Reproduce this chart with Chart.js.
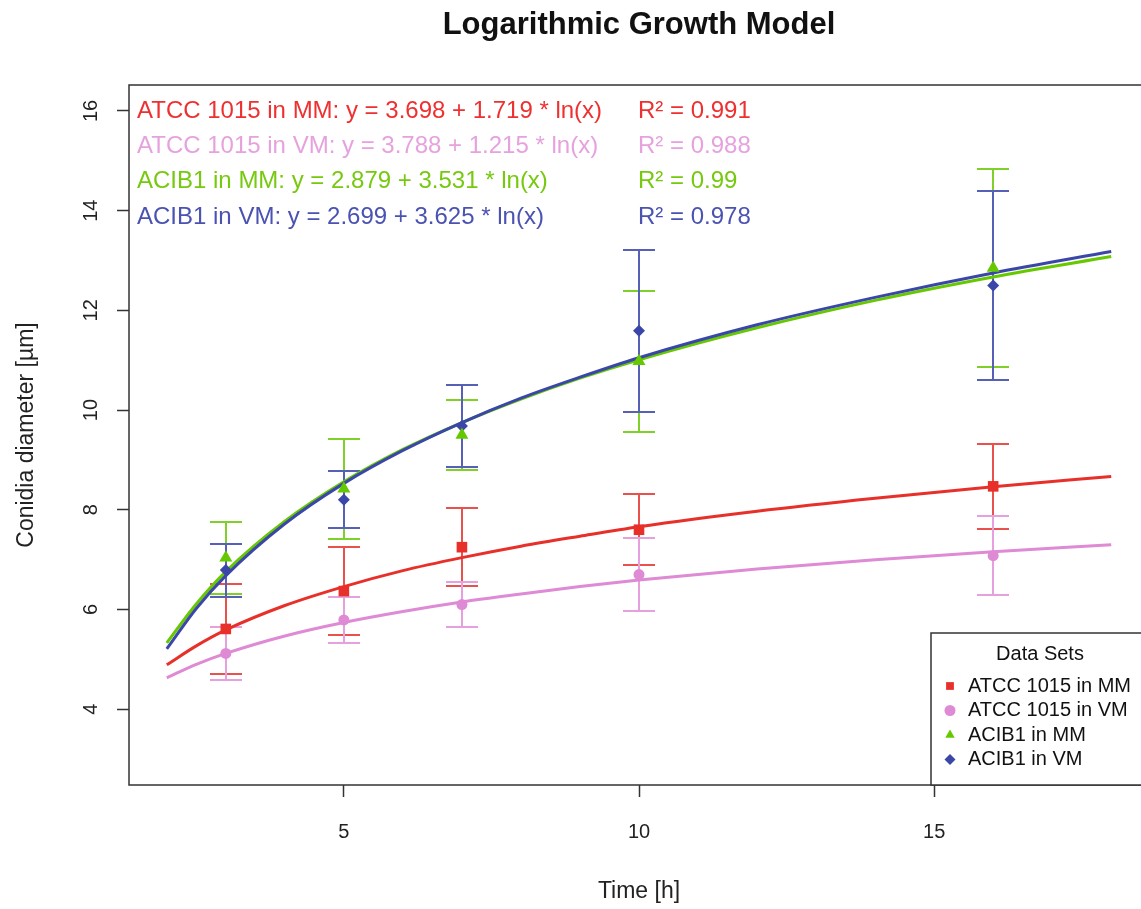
<!DOCTYPE html>
<html>
<head>
<meta charset="utf-8">
<title>Logarithmic Growth Model</title>
<script src="https://cdn.jsdelivr.net/npm/chart.js@4.4.1/dist/chart.umd.min.js"></script>
<style>
  html, body { margin: 0; padding: 0; background: #fff; overflow: hidden; }
  #marco { width: 1141px; height: 909px; overflow: hidden; }
</style>
</head>
<body>
<div id="marco"><canvas id="graf" width="1160" height="909"></canvas></div>
<script>
/*Datos*/
const seriesNames = ['ATCC 1015 in MM', 'ATCC 1015 in VM', 'ACIB1 in MM', 'ACIB1 in VM']
const equations = [
    'ATCC 1015 in MM: y = 3.698 + 1.719 * ln(x)',
    'ATCC 1015 in VM: y = 3.788 + 1.215 * ln(x)',
    'ACIB1 in MM: y = 2.879 + 3.531 * ln(x)',
    'ACIB1 in VM: y = 2.699 + 3.625 * ln(x)'
]
const r2Labels = ['R² = 0.991', 'R² = 0.988', 'R² = 0.99', 'R² = 0.978']

// puntos medidos (media y desviacion)
const sampleTimes = [3, 5, 7, 10, 16]
const meanAtccMM = [5.61, 6.37, 7.25, 7.60, 8.47]
const sdAtccMM = [0.91, 0.88, 0.78, 0.71, 0.85]
const meanAtccVM = [5.12, 5.79, 6.10, 6.70, 7.08]
const sdAtccVM = [0.53, 0.46, 0.45, 0.74, 0.79]
const meanAcibMM = [7.04, 8.42, 9.50, 10.98, 12.85]
const sdAcibMM = [0.72, 1.00, 0.70, 1.41, 1.99]
const meanAcibVM = [6.79, 8.20, 9.68, 11.59, 12.50]
const sdAcibVM = [0.53, 0.57, 0.82, 1.63, 1.89]

// curvas ajustadas
const curveTimes = [2, 2.5, 3, 4, 5, 6, 7, 8, 9, 10, 12, 14, 16, 18]
const fitAtccMM = [4.89, 5.27, 5.59, 6.08, 6.46, 6.78, 7.04, 7.27, 7.47, 7.66, 7.97, 8.23, 8.46, 8.67]
const fitAtccVM = [4.63, 4.90, 5.12, 5.47, 5.74, 5.96, 6.15, 6.31, 6.46, 6.59, 6.81, 7.00, 7.16, 7.30]
const fitAcibMM = [5.33, 6.11, 6.76, 7.77, 8.56, 9.21, 9.75, 10.22, 10.64, 11.01, 11.65, 12.20, 12.67, 13.08]
const fitAcibVM = [5.21, 6.02, 6.68, 7.72, 8.53, 9.19, 9.75, 10.24, 10.66, 11.05, 11.71, 12.26, 12.75, 13.18]

const xTicks = [5, 10, 15]
const yTicks = [4, 6, 8, 10, 12, 14, 16]

const seriesColors = ['#e8302a', '#de8ad4', '#66c800', '#3b47a8']
const barColors = ['#e9524c', '#e6a0de', '#7fd12a', '#5560b6']
const textColors = ['#ee3030', '#e6a2de', '#77c910', '#4a52b2']
const pointStyles = ['rect', 'circle', 'triangle', 'rectRot']
const pointSizes = [7.5, 5.5, 7.5, 6]

const means = [meanAtccMM, meanAtccVM, meanAcibMM, meanAcibVM]
const sds = [sdAtccMM, sdAtccVM, sdAcibMM, sdAcibVM]
const fits = [fitAtccMM, fitAtccVM, fitAcibMM, fitAcibVM]
const fuente = '"Liberation Sans", Arial, sans-serif'

Chart.defaults.font.family = fuente

function Pares(xs, ys) {
    return xs.map((x, i) => ({ x: x, y: ys[i] }))
}

// barras de error (debajo de curvas y puntos)
const barrasError = {
    id: 'barrasError',
    beforeDatasetsDraw(chart) {
        const ctx = chart.ctx
        const sx = chart.scales.x, sy = chart.scales.y
        ctx.save()
        ctx.lineWidth = 2
        for (let s = 0; s < means.length; s++) {
            ctx.strokeStyle = barColors[s]
            means[s].forEach((m, i) => {
                const px = Math.round(sx.getPixelForValue(sampleTimes[i]))
                const top = Math.round(sy.getPixelForValue(m + sds[s][i]))
                const bot = Math.round(sy.getPixelForValue(m - sds[s][i]))
                ctx.beginPath()
                ctx.moveTo(px, top); ctx.lineTo(px, bot)
                ctx.moveTo(px - 16, top); ctx.lineTo(px + 16, top)
                ctx.moveTo(px - 16, bot); ctx.lineTo(px + 16, bot)
                ctx.stroke()
            })
        }
        ctx.restore()
    }
}

// titulo, marco, ecuaciones y leyenda
const decorado = {
    id: 'decorado',
    afterDraw(chart) {
        const ctx = chart.ctx
        const a = chart.chartArea
        ctx.save()
        ctx.strokeStyle = '#333'
        ctx.lineWidth = 1.5
        ctx.strokeRect(a.left, a.top, a.right - a.left, a.bottom - a.top)

        ctx.fillStyle = '#111'
        ctx.font = 'bold 31px ' + fuente
        ctx.textAlign = 'center'
        ctx.textBaseline = 'middle'
        ctx.fillText('Logarithmic Growth Model', (a.left + a.right) / 2, 25)

        ctx.font = '24px ' + fuente
        ctx.textAlign = 'left'
        equations.forEach((t, i) => {
            ctx.fillStyle = textColors[i]
            const yy = a.top + 26 + i * 35.3
            ctx.fillText(t, a.left + 8, yy)
            ctx.fillText(r2Labels[i], a.left + 509, yy)
        })

        const w = 218, h = 152
        const lx = a.right - w, ly = a.bottom - h
        ctx.fillStyle = '#fff'
        ctx.fillRect(lx, ly, w, h)
        ctx.strokeRect(lx, ly, w, h)
        ctx.fillStyle = '#111'
        ctx.font = '20px ' + fuente
        ctx.textAlign = 'center'
        ctx.fillText('Data Sets', lx + w / 2, ly + 21)
        ctx.textAlign = 'left'
        seriesNames.forEach((n, i) => {
            const yy = ly + 53 + i * 24.5
            ctx.fillStyle = seriesColors[i]
            ctx.strokeStyle = seriesColors[i]
            Chart.helpers.drawPoint(ctx, { pointStyle: pointStyles[i], radius: 5.5, borderWidth: 0 }, lx + 19, yy)
            ctx.fillStyle = '#111'
            ctx.fillText(n, lx + 37, yy)
        })
        ctx.restore()
    }
}

let datasets = []
const curveOrder = [4, 5, 3, 2]
for (let s = 0; s < 4; s++) {
    datasets.push({
        label: seriesNames[s] + ' fit',
        type: 'line',
        data: Pares(curveTimes, fits[s]),
        borderColor: seriesColors[s],
        borderWidth: 3,
        pointRadius: 0,
        cubicInterpolationMode: 'monotone',
        fill: false,
        order: curveOrder[s]
    })
}
for (let s = 0; s < 4; s++) {
    datasets.push({
        label: seriesNames[s],
        type: 'scatter',
        data: Pares(sampleTimes, means[s]),
        backgroundColor: seriesColors[s],
        borderColor: seriesColors[s],
        borderWidth: 0,
        pointStyle: pointStyles[s],
        pointRadius: pointSizes[s],
        order: 0
    })
}

let graf = new Chart('graf', {
    type: 'scatter',
    data: { datasets: datasets },
    plugins: [barrasError, decorado],
    options: {
        responsive: false,
        animation: false,
        devicePixelRatio: 1,
        layout: { padding: { top: 85, right: 11, left: 0, bottom: 0 } },
        plugins: {
            legend: { display: false },
            tooltip: { enabled: false }
        },
        scales: {
            x: {
                type: 'linear',
                min: 1.36,
                max: 18.64,
                afterBuildTicks: s => { s.ticks = xTicks.map(v => ({ value: v })) },
                afterFit: s => { s.height = 124 },
                border: { display: false },
                grid: { drawOnChartArea: false, drawTicks: true, tickLength: 12, tickColor: '#333', tickWidth: 1.5 },
                ticks: { font: { size: 20 }, color: '#222', padding: 23, maxRotation: 0 },
                title: { display: true, text: 'Time [h]', font: { size: 23 }, color: '#222', padding: { top: 0, bottom: 4 } }
            },
            y: {
                type: 'linear',
                min: 2.48,
                max: 16.52,
                afterBuildTicks: s => { s.ticks = yTicks.map(v => ({ value: v })) },
                afterFit: s => { s.width = 129 },
                border: { display: false },
                grid: { drawOnChartArea: false, drawTicks: true, tickLength: 12, tickColor: '#333', tickWidth: 1.5 },
                ticks: { font: { size: 20 }, color: '#222', padding: 14, minRotation: 90, maxRotation: 90, crossAlign: 'center' },
                title: { display: true, text: 'Conidia diameter [µm]', font: { size: 23 }, color: '#222', padding: { top: 13, bottom: 0 } }
            }
        }
    }
})
</script>
</body>
</html>
